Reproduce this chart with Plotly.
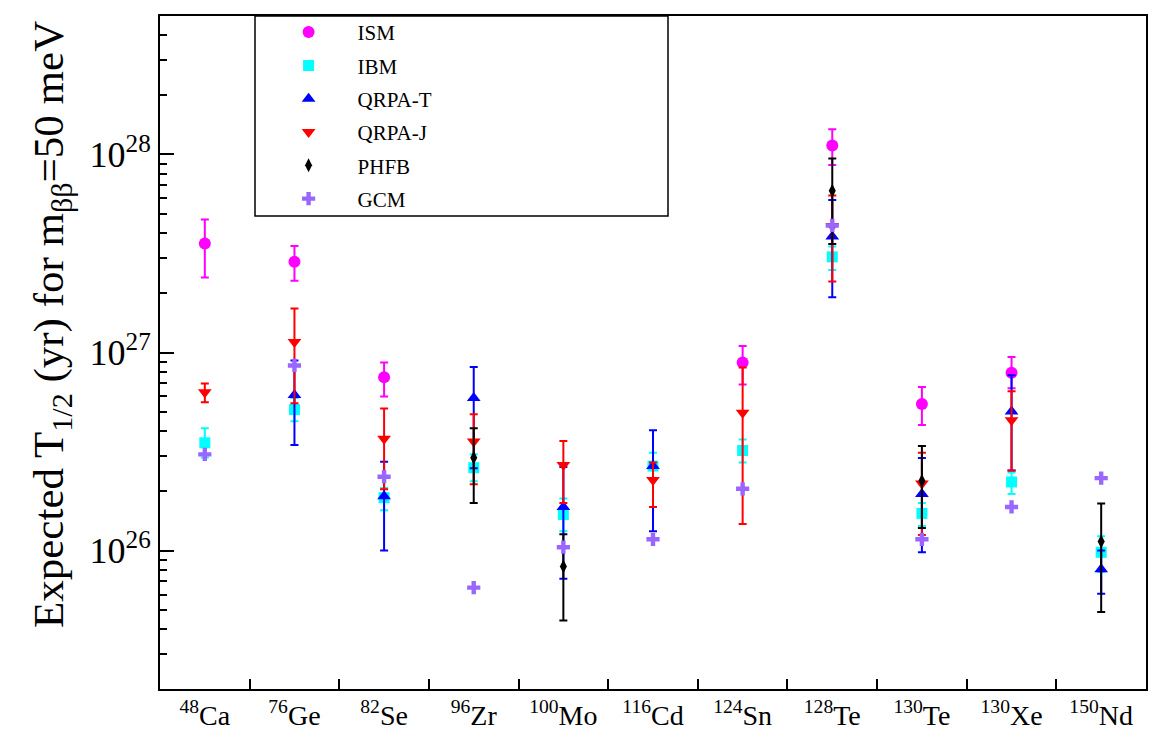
import plotly.graph_objects as go

categories = ["<sup>48</sup>Ca", "<sup>76</sup>Ge", "<sup>82</sup>Se", "<sup>96</sup>Zr", "<sup>100</sup>Mo",
              "<sup>116</sup>Cd", "<sup>124</sup>Sn", "<sup>128</sup>Te", "<sup>130</sup>Te",
              "<sup>130</sup>Xe", "<sup>150</sup>Nd"]

ism_val = [3.55e27, 2.87e27, 7.5e26, None, None, None, 8.9e26, 1.11e28, 5.5e26, 7.9e26, None]
ism_lo = [2.39e27, 2.30e27, 6.0e26, None, None, None, 6.9e26, 8.85e27, 4.3e26, 6.6e26, None]
ism_hi = [4.69e27, 3.45e27, 8.9e26, None, None, None, 1.08e27, 1.34e28, 6.7e26, 9.5e26, None]

ibm_val = [3.5e26, 5.15e26, 1.85e26, 2.62e26, 1.52e26, 2.67e26, 3.2e26, 3.04e27, 1.54e26, 2.22e26, 9.8e25]
ibm_lo = [2.95e26, 4.5e26, 1.6e26, 2.24e26, 1.25e26, 2.29e26, 2.78e26, 2.61e27, 1.33e26, 1.93e26, 7.8e25]
ibm_hi = [4.15e26, 5.9e26, 2.07e26, 3.06e26, 1.83e26, 3.12e26, 3.64e26, 3.43e27, 1.74e26, 2.48e26, 1.18e26]

qrpat_val = [None, 6.1e26, 1.88e26, 5.9e26, 1.66e26, 2.67e26, None, 3.85e27, 1.93e26, 5.04e26, 8.05e25]
qrpat_lo = [None, 3.41e26, 1.0e26, 2.6e26, 7.2e25, 1.25e26, None, 1.9e27, 9.8e25, 2.54e26, 6.05e25]
qrpat_hi = [None, 9.1e26, 2.81e26, 8.45e26, 2.64e26, 4.05e26, None, 5.89e27, 2.93e26, 7.67e26, 1.0e26]

qrpaj_val = [6.3e26, 1.13e27, 3.67e26, 3.55e26, 2.7e26, 2.27e26, 4.97e26, 4.35e27, 2.18e26, 4.55e26, None]
qrpaj_lo = [5.6e26, 5.55e26, 2.04e26, 2.16e26, 1.74e26, 1.66e26, 1.36e26, 2.28e27, 1.2e26, 2.54e26, None]
qrpaj_hi = [6.97e26, 1.67e27, 5.21e26, 4.88e26, 3.57e26, 2.78e26, 8.4e26, 6.21e27, 3.12e26, 6.38e26, None]

phfb_val = [None, None, None, 2.94e26, 8.3e25, None, None, 6.55e27, 2.25e26, None, 1.11e26]
phfb_lo = [None, None, None, 1.74e26, 4.43e25, None, None, 3.53e27, 1.3e26, None, 4.9e25]
phfb_hi = [None, None, None, 4.14e26, 1.21e26, None, None, 9.55e27, 3.37e26, None, 1.73e26]

gcm_val = [3.06e26, 8.6e26, 2.36e26, 6.5e25, 1.04e26, 1.14e26, 2.05e26, 4.38e27, 1.14e26, 1.66e26, 2.32e26]

y_tick_vals = [1e26, 1e27, 1e28]
y_tick_text = ["10<sup>26</sup>", "10<sup>27</sup>", "10<sup>28</sup>"]

SERIF = "Liberation Serif"


def errs(val, lo, hi):
    plus = [(h - v) if (v is not None and h is not None) else 0 for v, h in zip(val, hi)]
    minus = [(v - l) if (v is not None and l is not None) else 0 for v, l in zip(val, lo)]
    return plus, minus


fig = go.Figure()

series = [
    ("ISM", ism_val, ism_lo, ism_hi, "#ff00ff", "circle", 12),
    ("IBM", ibm_val, ibm_lo, ibm_hi, "#00ffff", "square", 11),
    ("QRPA-T", qrpat_val, qrpat_lo, qrpat_hi, "#0000ff", "triangle-up", 12),
    ("QRPA-J", qrpaj_val, qrpaj_lo, qrpaj_hi, "#ff0000", "triangle-down", 12),
    ("PHFB", phfb_val, phfb_lo, phfb_hi, "#000000", "diamond-tall", 10),
]
for name, v, lo, hi, col, sym, sz in series:
    p, m = errs(v, lo, hi)
    fig.add_trace(go.Scatter(
        x=categories, y=v, mode="markers", name=name, legendgroup=name,
        marker=dict(color=col, symbol=sym, size=sz),
        error_y=dict(type="data", symmetric=False, array=p, arrayminus=m,
                     color=col, thickness=2, width=4),
    ))

fig.add_trace(go.Scatter(
    x=categories, y=gcm_val, mode="markers", name="GCM", legendgroup="GCM",
    marker=dict(color="#9966ff", symbol="cross", size=11),
))

minor_vals = [float(k) * 10.0 ** n for n in range(25, 29) for k in range(2, 10)]

fig.update_layout(
    width=1163, height=735,
    margin=dict(l=160, r=17, t=16, b=46, autoexpand=False),
    paper_bgcolor="white", plot_bgcolor="white",
    font=dict(family=SERIF, color="black"),
    showlegend=True,
    legend=dict(x=0.101, y=1.006, xanchor="left", yanchor="top",
                bgcolor="rgba(0,0,0,0)", borderwidth=0,
                font=dict(family=SERIF, size=21), itemwidth=88,
                tracegroupgap=3, traceorder="grouped"),
    xaxis=dict(type="category", range=[-0.5, 10.5], tickson="boundaries",
               ticks="inside", ticklen=10, tickwidth=1.5, tickcolor="black",
               showline=True, linewidth=2, linecolor="black", mirror=True,
               showgrid=False, zeroline=False, tickangle=0, automargin=False,
               tickfont=dict(family=SERIF, size=28)),
    yaxis=dict(type="log", range=[25.301, 28.699], tickmode="array",
               tickvals=y_tick_vals, ticktext=y_tick_text,
               ticks="inside", ticklen=14, tickwidth=1.5, tickcolor="black",
               minor=dict(tickmode="array", tickvals=minor_vals, ticks="inside",
                          ticklen=7, tickwidth=1.5, tickcolor="black", showgrid=False),
               showline=True, linewidth=2, linecolor="black", mirror=True,
               showgrid=False, zeroline=False, automargin=False,
               tickfont=dict(family=SERIF, size=36)),
    shapes=[dict(type="rect", xref="paper", yref="paper",
                 x0=(255 - 160) / 986, x1=(668 - 160) / 986, y0=(689 - 216) / 673, y1=1.0,
                 line=dict(color="black", width=1.5), fillcolor="rgba(0,0,0,0)")],
    annotations=[dict(text="Expected T<sub>1/2</sub> (yr) for m<sub>ββ</sub>=50 meV",
                      xref="paper", yref="paper", x=(52 - 160) / 986, y=(689 - 325) / 673,
                      xanchor="center", yanchor="middle", textangle=-90, showarrow=False,
                      font=dict(family=SERIF, size=43, color="black"))],
)

fig.write_html("out.html")
